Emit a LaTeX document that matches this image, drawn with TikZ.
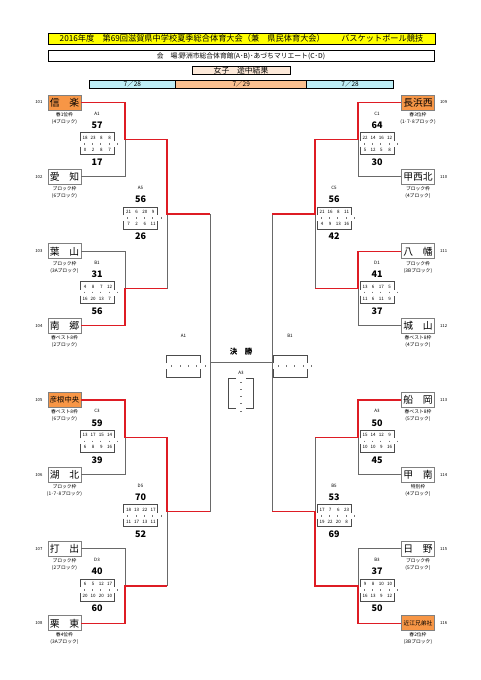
\documentclass[tikz,border=0pt]{standalone}
\usepackage{fontspec}
\setmainfont{Noto Sans CJK JP}
\usetikzlibrary{positioning}
\definecolor{titleyel}{RGB}{255,255,0}
\definecolor{seedorg}{RGB}{247,150,70}
\definecolor{dayblue}{RGB}{190,238,246}
\definecolor{dayorg}{RGB}{250,192,143}
\definecolor{girlpeach}{RGB}{253,233,217}
\definecolor{winred}{RGB}{222,28,36}
\definecolor{linegray}{RGB}{105,105,105}
\definecolor{boxgray}{RGB}{128,128,128}
\newcommand{\fsz}[1]{\fontsize{#1}{#1}\selectfont}
\newcommand{\scorecard}[7]{%
  \node[mlabel] (#1-lab) at (#2,#3-30) {#1};
  \node[score] (#1-top) at (#2,#3-18.5) {#4}; \node[score] (#1-bot) at (#2,#3+18.5) {#5};
  \draw[sbox] (#2-17,#3-3) |- (#2+17,#3-11) -- (#2+17,#3-3);
  \draw[sbox] (#2-17,#3+3) |- (#2+17,#3+11) -- (#2+17,#3+3);
  \foreach \q [count=\i] in {#6} {\node[qtr] (#1-t\i) at (#2-12+8.2*\i-8.2,#3-6) {\q};}
  \foreach \q [count=\i] in {#7} {\node[qtr] (#1-b\i) at (#2-12+8.2*\i-8.2,#3+6) {\q};}
  \foreach \i in {0,...,4} {\draw[qtick] (#2-13+8.3*\i,#3-0.8) -- ++(0,1.6);}
}
\newcommand{\blankcard}[4]{%
  \node[mlabel] (#1) at (#3,#4-30) {#2};
  \draw[sbox] (#3-17,#4-3) |- (#3+17,#4-11) -- (#3+17,#4-3);
  \draw[sbox] (#3-17,#4+3) |- (#3+17,#4+11) -- (#3+17,#4+3);
  \foreach \i in {0,...,4} {\draw[qtick] (#3-12+8.3*\i,#4-0.8) -- ++(0,1.6);}
}

\begin{document}
\begin{tikzpicture}[x=1pt,y=-1pt,
  team/.style={draw=boxgray,line width=0.9pt,minimum width=33pt,minimum height=15pt,inner sep=0pt,font=\fsz{9.8}},
  seed/.style={team,fill=seedorg},
  seedsm/.style={seed,font=\fsz{7.3}},
  seedxs/.style={seed,font=\fsz{5.8}},
  note/.style={font=\fontsize{4.8}{7}\selectfont,align=center,inner sep=0pt,label distance=1.5pt},
  num/.style={font=\fsz{4.2},inner sep=0pt,label distance=5pt},
  mlabel/.style={font=\fsz{4.5},inner sep=0pt},
  score/.style={font=\bfseries\fsz{9},inner sep=0pt},
  qtr/.style={font=\fsz{4.5},inner sep=0pt},
  sbox/.style={draw=black!70,line width=0.6pt},
  qtick/.style={draw=black!55,line width=0.4pt},
  win/.style={draw=winred,line width=1.5pt},
  lose/.style={draw=linegray,line width=0.9pt},
  day/.style={draw,line width=0.7pt,minimum height=8pt,inner sep=0pt,outer sep=0pt,font=\fsz{6.5}}]
\useasboundingbox (0,0) rectangle (481,680);

\node[draw,line width=0.8pt,fill=titleyel,minimum width=387pt,minimum height=11pt,inner sep=0pt,font=\fsz{8.2}] (title) at (241.5,38.5) {2016年度　第69回滋賀県中学校夏季総合体育大会（兼　県民体育大会）　　バスケットボール競技};
\node[draw,line width=0.8pt,minimum width=386pt,minimum height=10.6pt,inner sep=0pt,font=\fsz{6.8}] (venue) at (241,56) {会　場:野洲市総合体育館(A･B)･あづちマリエート(C･D)};
\node[draw,line width=0.8pt,fill=girlpeach,minimum width=98pt,minimum height=8.7pt,inner sep=0pt,font=\fsz{7.8}] (girls) at (241,70.3) {女子　途中結果};
\node[day,fill=dayorg,minimum width=131pt] (d29) at (241.2,84) {7／29};
\node[day,fill=dayblue,minimum width=86.7pt,left=0pt of d29] (d28a) {7／28};
\node[day,fill=dayblue,minimum width=86.7pt,right=0pt of d29] (d28b) {7／28};

\coordinate (a1) at (125,139.7); \coordinate (b1) at (125,288.5); \coordinate (c3) at (125,437.3); \coordinate (d3) at (125,586.1);
\coordinate (a5) at (167,214.1); \coordinate (d5) at (167,511.7);
\coordinate (c1) at (358,139.7); \coordinate (d1) at (358,288.5); \coordinate (a3) at (358,437.3); \coordinate (b3) at (358,586.1);
\coordinate (c5) at (315,214.1); \coordinate (b5) at (315,511.7);
\coordinate (fL) at (210,362.9); \coordinate (fR) at (272,362.9);

\foreach \k/\txt/\info/\st in {1/信　楽/春1位枠\\(4ブロック)/seed, 2/愛　知/ブロック枠\\(6ブロック)/team,
  3/葉　山/ブロック枠\\(3Aブロック)/team, 4/南　郷/春ベスト8枠\\(2ブロック)/team,
  5/彦根中央/春ベスト8枠\\(6ブロック)/seedsm, 6/湖　北/ブロック枠\\(1･7･8ブロック)/team,
  7/打　出/ブロック枠\\(2ブロック)/team, 8/栗　東/春4位枠\\(3Aブロック)/team}{
  \pgfmathtruncatemacro\nn{100+\k}
  \node[\st,label={[note]below:\info},label={[num]left:\nn}] (L\k) at (64.5,{102.5+74.4*(\k-1)}) {\txt};
}
\foreach \k/\txt/\info/\st in {1/長浜西/春3位枠\\(1･7･8ブロック)/seed, 2/甲西北/ブロック枠\\(4ブロック)/team,
  3/八　幡/ブロック枠\\(3Bブロック)/team, 4/城　山/春ベスト8枠\\(4ブロック)/team,
  5/船　岡/春ベスト8枠\\(5ブロック)/team, 6/甲　南/特別枠\\(4ブロック)/team,
  7/日　野/ブロック枠\\(5ブロック)/team, 8/近江兄弟社/春2位枠\\(3Bブロック)/seedxs}{
  \pgfmathtruncatemacro\nn{108+\k}
  \node[\st,label={[note]below:\info},label={[num]right:\nn}] (R\k) at (418,{102.5+74.4*(\k-1)}) {\txt};
}

\draw[lose] (L2.east) -| (a1); \draw[lose] (L3.east) -| (b1); \draw[lose] (L6.east) -| (c3); \draw[lose] (L7.east) -| (d3);
\draw[lose] (a5) -- (b1 -| a5); \draw[lose] (d5) -- (d3 -| d5);
\draw[lose] (R2.west) -| (c1); \draw[lose] (R4.west) -| (d1); \draw[lose] (R6.west) -| (a3); \draw[lose] (R7.west) -| (b3);
\draw[lose] (c5) -- (d1 -| c5); \draw[lose] (b5) -- (a3 -| b5);
\draw[lose] (a5 -| fL) -- (d5 -| fL); \draw[lose] (c5 -| fR) -- (b5 -| fR); \draw[lose] (fL) -- (fR);

\draw[win] (L1.east) -| (a1) -- (a1 -| a5) -- (a5) -- (a5 -| fL);
\draw[win] (L4.east) -| (b1) -- (b1 -| a5);
\draw[win] (L5.east) -| (c3) -- (c3 -| d5) -- (d5) -- (d5 -| fL);
\draw[win] (L8.east) -| (d3) -- (d3 -| d5);
\draw[win] (R1.west) -| (c1) -- (c1 -| c5) -- (c5) -- (c5 -| fR);
\draw[win] (R3.west) -| (d1) -- (d1 -| c5);
\draw[win] (R5.west) -| (a3) -- (a3 -| b5);
\draw[win] (R8.west) -| (b3) -- (b3 -| b5) -- (b5) -- (b5 -| fR);

\scorecard{A1}{97}{143.7}{57}{17}{18,23,8,8}{0,2,8,7}
\scorecard{B1}{97}{292.5}{31}{56}{4,8,7,12}{16,20,13,7}
\scorecard{C3}{97}{441.3}{59}{39}{13,17,15,14}{6,8,9,16}
\scorecard{D3}{97}{590.1}{40}{60}{6,5,12,17}{20,10,20,10}
\scorecard{A5}{140.5}{218.1}{56}{26}{21,6,20,9}{7,2,6,11}
\scorecard{D5}{140.5}{515.7}{70}{52}{18,13,22,17}{11,17,13,11}
\scorecard{C1}{377}{143.7}{64}{30}{22,14,16,12}{5,12,5,8}
\scorecard{D1}{377}{292.5}{41}{37}{13,6,17,5}{11,6,11,9}
\scorecard{A3}{377}{441.3}{50}{45}{15,14,12,9}{10,10,9,16}
\scorecard{B3}{377}{590.1}{37}{50}{9,8,10,10}{16,13,9,12}
\scorecard{C5}{334}{218.1}{56}{42}{21,16,8,11}{4,9,13,16}
\scorecard{B5}{334}{515.7}{53}{69}{17,7,6,23}{19,22,20,8}

\node[font=\bfseries\fsz{7.5}] (final) at (241,352) {決　勝};
\blankcard{fA1}{A1}{183.5}{366}
\blankcard{fB1}{B1}{290}{366}
\node[mlabel] (fA3) at (241,373.3) {A3};
\draw[sbox] (236,378) -| (228.5,408) -- (236,408); \draw[sbox] (246,378) -| (253.5,408) -- (246,408);
\foreach \i in {0,...,4} {\draw[qtick] (240.2,382+7.2*\i) -- ++(1.6,0);}
\end{tikzpicture}
\end{document}
